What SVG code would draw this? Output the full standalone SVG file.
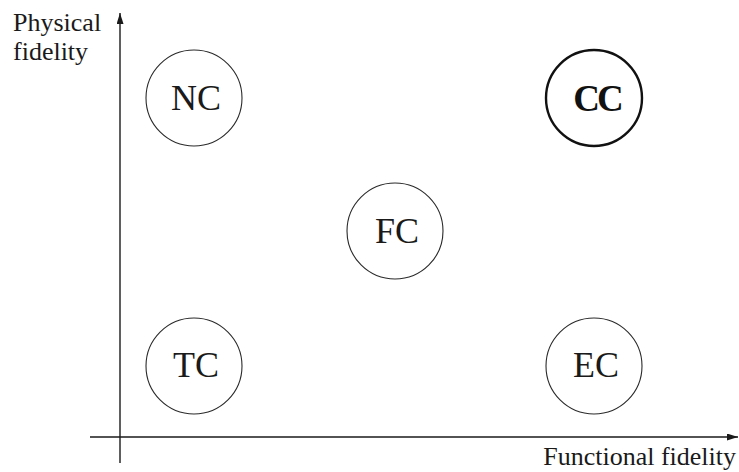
<svg xmlns="http://www.w3.org/2000/svg" width="739" height="472" viewBox="0 0 739 472">
  <style>
    .axis { stroke: #1a1a1a; stroke-width: 1.4; fill: none; }
    .node { fill: #ffffff; stroke: #2a2a2a; stroke-width: 1.1; }
    .node-strong { fill: #ffffff; stroke: #111111; stroke-width: 2.4; }
    .label { font-family: "Liberation Serif", "Times New Roman", serif; font-size: 36px; fill: #1a1a1a; text-anchor: middle; }
    .label-strong { font-family: "Liberation Serif", "Times New Roman", serif; font-size: 37px; font-weight: bold; fill: #111111; text-anchor: middle; letter-spacing: -3px; }
    .axis-title { font-family: "Liberation Serif", "Times New Roman", serif; font-size: 26px; fill: #1a1a1a; }
  </style>
  <defs>
    <marker id="arrow" viewBox="0 0 11 7" refX="11" refY="3.5" markerWidth="11" markerHeight="7" markerUnits="userSpaceOnUse" orient="auto">
      <path d="M0,0 L11,3.5 L0,7 z" fill="#1a1a1a"/>
    </marker>
  </defs>

  <!-- axes -->
  <g id="axes">
    <line class="axis" x1="120" y1="463" x2="120" y2="13" marker-end="url(#arrow)"/>
    <line class="axis" x1="90" y1="437" x2="738" y2="437" marker-end="url(#arrow)"/>
    <text class="axis-title" x="13" y="31">Physical</text>
    <text class="axis-title" x="13" y="60">fidelity</text>
    <text class="axis-title" x="736" y="465" text-anchor="end">Functional fidelity</text>
  </g>

  <g id="NC">
    <circle class="node" cx="194" cy="98" r="48"/>
    <text class="label" x="196" y="110">NC</text>
  </g>
  <g id="CC">
    <circle class="node-strong" cx="594" cy="98" r="48"/>
    <text class="label-strong" x="597" y="111">CC</text>
  </g>
  <g id="FC">
    <circle class="node" cx="395" cy="231" r="48"/>
    <text class="label" x="397" y="243">FC</text>
  </g>
  <g id="TC">
    <circle class="node" cx="194" cy="366" r="48"/>
    <text class="label" x="196" y="377">TC</text>
  </g>
  <g id="EC">
    <circle class="node" cx="594" cy="366" r="48"/>
    <text class="label" x="596" y="377">EC</text>
  </g>
</svg>
